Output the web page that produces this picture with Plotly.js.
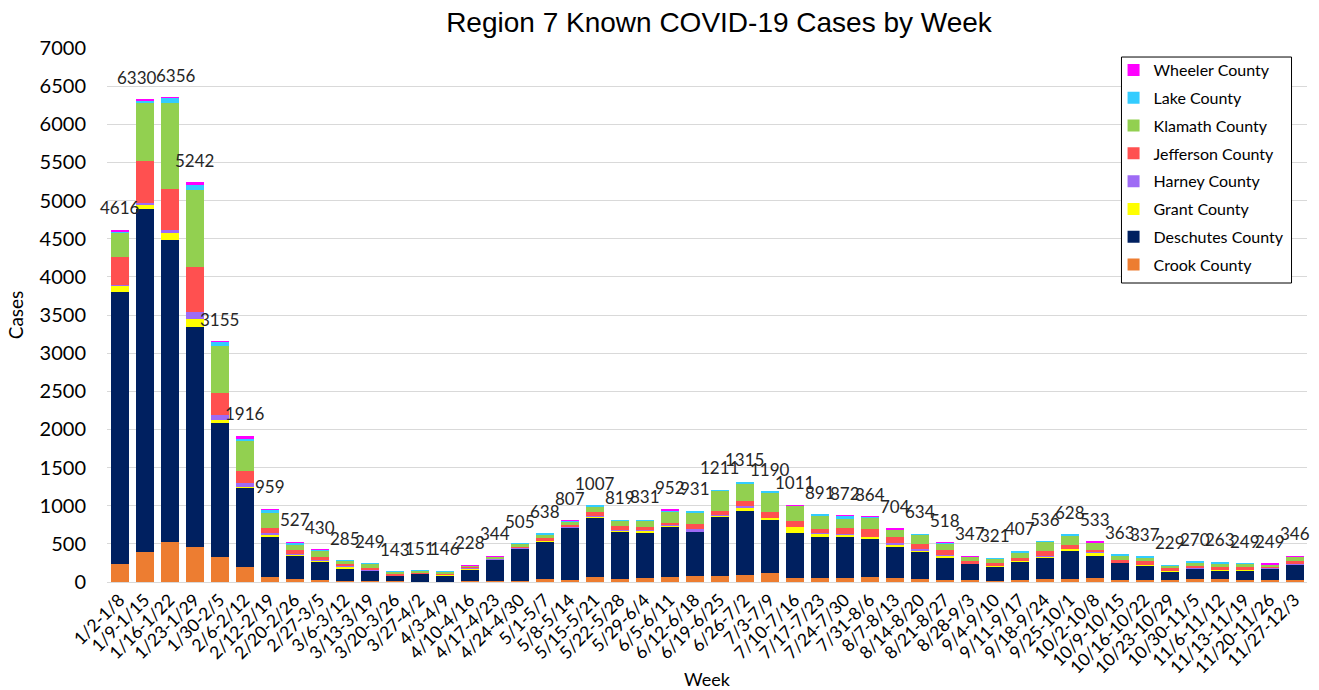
<!DOCTYPE html>
<html>
<head>
<meta charset="utf-8">
<script src="https://cdn.plot.ly/plotly-3.0.1.min.js"></script>
<style>html,body{margin:0;padding:0;background:#fff;}#chart{width:1319px;height:690px;}</style>
</head>
<body>
<div id="chart"></div>
<script>
const weeks = ["1/2-1/8","1/9-1/15","1/16-1/22","1/23-1/29","1/30-2/5","2/6-2/12","2/12-2/19","2/20-2/26","2/27-3/5","3/6-3/12","3/13-3/19","3/20-3/26","3/27-4/2","4/3-4/9","4/10-4/16","4/17-4/23","4/24-4/30","5/1-5/7","5/8-5/14","5/15-5/21","5/22-5/28","5/29-6/4","6/5-6/11","6/12-6/18","6/19-6/25","6/26-7/2","7/3-7/9","7/10-7/16","7/17-7/23","7/24-7/30","7/31-8/6","8/7-8/13","8/14-8/20","8/21-8/27","8/28-9/3","9/4-9/10","9/11-9/17","9/18-9/24","9/25-10/1","10/2-10/8","10/9-10/15","10/16-10/22","10/23-10/29","10/30-11/5","11/6-11/12","11/13-11/19","11/20-11/26","11/27-12/3"];

const crook     = [236,390,520,463,323,192,62,35,25,15,12,8,5,5,8,8,10,39,26,66,39,48,66,79,79,96,122,48,48,48,66,48,35,26,26,17,26,35,39,52,26,26,26,39,39,26,26,26];
const deschutes = [3570,4500,3960,2883,1765,1036,532,306,233,155,128,66,95,78,149,280,418,485,677,768,621,590,650,572,777,835,691,599,546,537,493,406,363,284,206,184,241,284,363,289,219,188,109,131,110,123,140,197];
const grant     = [75,50,95,97,35,21,22,17,21,25,8,5,3,3,10,5,5,10,10,15,10,30,15,8,15,45,20,70,40,35,25,25,5,30,5,5,8,13,25,40,5,5,5,5,5,5,5,5];
const harney    = [10,30,45,91,66,44,30,10,8,10,12,5,3,5,12,8,10,8,5,10,10,8,10,30,5,15,8,4,5,5,5,30,30,20,5,3,5,5,5,8,5,10,10,5,8,8,8,8];
const jefferson = [365,550,530,590,292,166,66,51,45,30,25,18,12,15,15,5,12,30,30,55,60,40,30,70,60,65,80,80,50,80,100,75,60,55,35,40,40,65,55,35,35,40,40,25,35,35,20,35];
const klamath   = [325,760,1130,1014,616,389,188,66,74,35,48,27,23,25,15,20,40,50,40,75,65,90,150,150,255,230,250,190,180,124,150,95,120,80,50,55,65,121,120,85,55,50,20,45,45,40,30,55];
const lake      = [10,30,60,70,55,28,44,30,19,12,14,12,10,13,5,5,10,16,8,18,14,5,10,22,20,22,17,5,20,30,10,5,20,20,5,17,17,13,20,5,17,17,8,20,20,8,0,0];
const wheeler   = [25,20,16,34,3,40,15,12,5,3,2,2,0,2,14,13,0,0,11,0,0,0,21,0,0,7,2,15,2,13,15,20,1,3,15,0,5,0,1,19,1,1,11,0,1,4,20,20];
const totals    = [4616,6330,6356,5242,3155,1916,959,527,430,285,249,143,151,146,228,344,505,638,807,1007,819,831,952,931,1211,1315,1190,1011,891,872,864,704,634,518,347,321,407,536,628,533,363,337,229,270,263,249,249,346];

const series = [
  {name:"Crook County", y:crook, color:"#ED7D31"},
  {name:"Deschutes County", y:deschutes, color:"#002060"},
  {name:"Grant County", y:grant, color:"#FFFF00"},
  {name:"Harney County", y:harney, color:"#9E6BF5"},
  {name:"Jefferson County", y:jefferson, color:"#FF5050"},
  {name:"Klamath County", y:klamath, color:"#92D050"},
  {name:"Lake County", y:lake, color:"#33CCFF"},
  {name:"Wheeler County", y:wheeler, color:"#FF00FF"}
];

const FONT = "Lato, 'Open Sans', sans-serif";

const traces = series.map((s,k) => ({
  type:"bar", name:s.name, x:weeks, y:s.y,
  legendgroup:"g"+k, legendrank:series.length-k,
  marker:{color:s.color, line:{width:0}},
  hoverinfo:"x+y+name"
}));

// small horizontal nudges for the two crowded labels at the peak
const labelNudge = {1:-8, 2:6};

const annotations = weeks.map((w,i) => ({
  x:w, y:totals[i], xref:"x", yref:"y",
  text:String(totals[i]), showarrow:false,
  yanchor:"middle", yshift:22, xshift:(labelNudge[i]||0),
  font:{family:FONT, size:17, color:"#262626"}
}));

const layout = {
  width:1319, height:690,
  margin:{l:107, r:12, t:48, b:108},
  paper_bgcolor:"#fff", plot_bgcolor:"#fff",
  barmode:"stack", bargap:0.28,
  title:{text:"Region 7 Known COVID-19 Cases by Week", font:{family:"Liberation Sans, Arial, sans-serif", size:28, color:"#000"}, xref:"paper", x:0.51, xanchor:"center", yref:"container", y:0.968, yanchor:"middle"},
  xaxis:{
    type:"category", range:[-0.5,47.5], tickangle:-45,
    tickfont:{family:FONT, size:17.5, color:"#000"},
    showgrid:false, showline:true, linecolor:"#d9d9d9", linewidth:1,
    ticks:"", automargin:false,
    title:{text:"Week", font:{family:FONT, size:18, color:"#000"}, standoff:0}
  },
  yaxis:{
    range:[0,7000], dtick:500, tick0:0,
    tickfont:{family:FONT, size:20, color:"#000"},
    ticklabelstandoff:20,
    showgrid:true, gridcolor:"#d9d9d9", gridwidth:1,
    zeroline:false, showline:false, ticks:"", automargin:false,
    title:{text:"Cases", font:{family:FONT, size:19, color:"#000"}, standoff:10}
  },
  legend:{
    traceorder:"grouped", tracegroupgap:4,
    x:0.8388, y:0.9905, xanchor:"left", yanchor:"top",
    bgcolor:"rgba(0,0,0,0)", borderwidth:0,
    font:{family:FONT, size:16, color:"#000"},
    itemwidth:30
  },
  shapes:[{
    type:"rect", xref:"paper", yref:"paper",
    x0:0.8454, x1:0.9871, y0:0.5599, y1:0.9831,
    line:{color:"#000", width:1}, fillcolor:"#fff", layer:"above"
  }],
  annotations:annotations,
  showlegend:true
};

Plotly.newPlot("chart", traces, layout, {displayModeBar:false, staticPlot:true});
</script>
</body>
</html>
